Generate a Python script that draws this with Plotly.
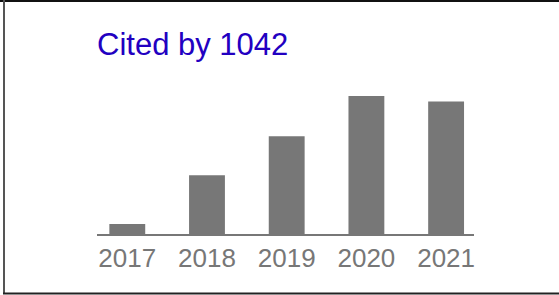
import plotly.graph_objects as go

years = ["2017", "2018", "2019", "2020", "2021"]
citations = [24, 140, 233, 329, 316]
total_cited = 1042

W, H = 559, 295
L, R, T, B = 97, 85, 96, 61
pw, ph = W - L - R, H - T - B

def px_x(x):
    return (x - L) / pw

def px_y(y):
    return (H - B - y) / ph

fig = go.Figure(go.Bar(
    x=years, y=citations, width=0.45,
    marker=dict(color="#777777", line=dict(width=0)),
    hoverinfo="skip",
))

fig.update_layout(
    width=W, height=H,
    margin=dict(l=L, r=R, t=T, b=B, pad=0),
    paper_bgcolor="white", plot_bgcolor="white",
    showlegend=False,
    font=dict(family="Arial, 'Liberation Sans', sans-serif"),
    xaxis=dict(
        type="category", range=[-0.38, 4.35],
        showgrid=False, zeroline=False,
        showline=True, linecolor="#777777", linewidth=2,
        ticks="", tickfont=dict(size=26, color="#777777"),
        fixedrange=True,
    ),
    yaxis=dict(
        range=[0, 329], visible=False, showgrid=False, zeroline=False,
        fixedrange=True,
    ),
    annotations=[dict(
        text=f"Cited by {total_cited}", showarrow=False,
        xref="paper", yref="paper", x=px_x(95), y=px_y(44),
        xanchor="left", yanchor="middle",
        font=dict(size=31, color="#2200c1"),
    )],
    shapes=[
        dict(type="line", xref="paper", yref="paper", x0=px_x(0), x1=px_x(W),
             y0=px_y(1), y1=px_y(1), line=dict(color="#111111", width=2)),
        dict(type="line", xref="paper", yref="paper", x0=px_x(4), x1=px_x(4),
             y0=px_y(0), y1=px_y(294), line=dict(color="#555555", width=2)),
        dict(type="line", xref="paper", yref="paper", x0=px_x(3), x1=px_x(W),
             y0=px_y(293.5), y1=px_y(293.5), line=dict(color="#222222", width=2)),
    ],
)

fig.write_html(
    "out.html",
    config={"displayModeBar": False},
    post_script="document.body.style.margin='0';document.body.style.overflow='hidden';",
)
